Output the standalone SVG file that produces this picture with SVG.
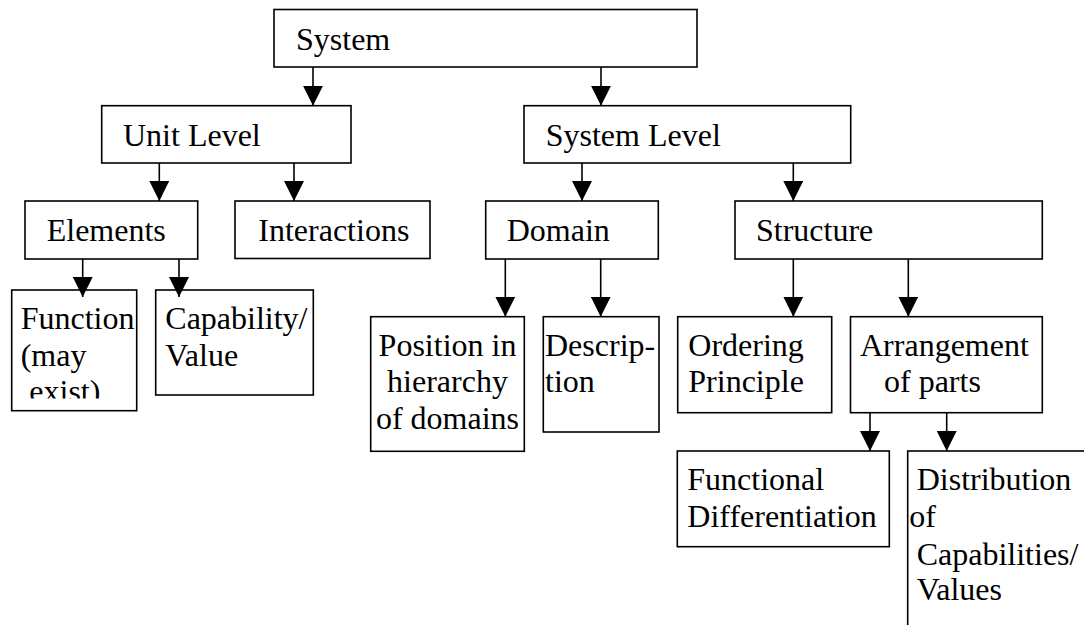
<svg xmlns="http://www.w3.org/2000/svg" width="1084" height="625" viewBox="0 0 1084 625">
<style>
.box{fill:#fff;stroke:#000;stroke-width:1.6}
.t{font-family:'Liberation Serif','DejaVu Serif',serif;font-size:32px;fill:#000}
.c{stroke:#000;stroke-width:1.6;fill:none;marker-end:url(#ah)}
</style>
<defs>
<marker id="ah" viewBox="0 0 20 20" markerWidth="20" markerHeight="20" markerUnits="userSpaceOnUse" refX="20" refY="10" orient="auto">
<path d="M0,0 L20,10 L0,20 z" fill="#000"/>
</marker>
<clipPath id="clipFn"><rect x="0" y="290" width="140" height="108.5"/></clipPath>
</defs>
<rect width="1084" height="625" fill="#fff"/>
<g id="n-system"><rect class="box" x="274" y="9.5" width="423" height="57.5"/><text class="t" x="296" y="50">System</text></g>
<g id="n-unit"><rect class="box" x="101.7" y="105.7" width="249.3" height="57.3"/><text class="t" x="123" y="146">Unit Level</text></g>
<g id="n-syslevel"><rect class="box" x="524" y="105.7" width="326.7" height="57.3"/><text class="t" x="545.7" y="146">System Level</text></g>
<g id="n-elements"><rect class="box" x="25" y="201" width="172.7" height="58"/><text class="t" x="46.7" y="241">Elements</text></g>
<g id="n-interactions"><rect class="box" x="235" y="201" width="195" height="57.5"/><text class="t" x="258.3" y="241">Interactions</text></g>
<g id="n-domain"><rect class="box" x="485.7" y="201" width="172.6" height="58"/><text class="t" x="506.7" y="241">Domain</text></g>
<g id="n-structure"><rect class="box" x="735" y="201" width="307.3" height="58"/><text class="t" x="756" y="241">Structure</text></g>
<g id="n-function"><rect class="box" x="11.7" y="290" width="125" height="120.7"/><g clip-path="url(#clipFn)"><text class="t" x="20.7" y="329">Function</text><text class="t" x="20.7" y="365.5">(may</text><text class="t" x="29.3" y="402">exist)</text></g></g>
<g id="n-capability"><rect class="box" x="155.7" y="290" width="157.6" height="105"/><text class="t" x="165.3" y="329">Capability/</text><text class="t" x="165.3" y="366">Value</text></g>
<g id="n-position"><rect class="box" x="370.7" y="316.7" width="153.6" height="134.6"/><text class="t" x="447.5" y="356" text-anchor="middle">Position in</text><text class="t" x="447.5" y="392" text-anchor="middle">hierarchy</text><text class="t" x="447.5" y="429" text-anchor="middle">of domains</text></g>
<g id="n-description"><rect class="box" x="543.3" y="316.7" width="115.7" height="115.3"/><text class="t" x="545" y="356">Descrip-</text><text class="t" x="545" y="392">tion</text></g>
<g id="n-ordering"><rect class="box" x="677.7" y="316.7" width="154" height="96"/><text class="t" x="688.3" y="356">Ordering</text><text class="t" x="688.3" y="392">Principle</text></g>
<g id="n-arrangement"><rect class="box" x="850.5" y="316.7" width="191.8" height="96"/><text class="t" x="860" y="356">Arrangement</text><text class="t" x="884" y="392">of parts</text></g>
<g id="n-functional"><rect class="box" x="677.3" y="451" width="212" height="95.7"/><text class="t" x="687.3" y="490">Functional</text><text class="t" x="687.3" y="526.7">Differentiation</text></g>
<g id="n-distribution"><rect class="box" x="907.7" y="451" width="200" height="200"/><text class="t" x="916.7" y="490">Distribution</text><text class="t" x="909.3" y="526.7">of</text><text class="t" x="916.7" y="565">Capabilities/</text><text class="t" x="916.7" y="600">Values</text></g>
<g id="connectors">
<line class="c" x1="313" y1="67" x2="313" y2="105.7"/>
<line class="c" x1="601" y1="67" x2="601" y2="105.7"/>
<line class="c" x1="159.3" y1="163" x2="159.3" y2="201"/>
<line class="c" x1="294" y1="163" x2="294" y2="201"/>
<line class="c" x1="582" y1="163" x2="582" y2="201"/>
<line class="c" x1="793.3" y1="163" x2="793.3" y2="201"/>
<line class="c" x1="82.7" y1="259" x2="82.7" y2="297"/>
<line class="c" x1="179" y1="259" x2="179" y2="297"/>
<line class="c" x1="505.3" y1="259" x2="505.3" y2="316.7"/>
<line class="c" x1="600.7" y1="259" x2="600.7" y2="316.7"/>
<line class="c" x1="793.3" y1="259" x2="793.3" y2="316.7"/>
<line class="c" x1="908.3" y1="259" x2="908.3" y2="316.7"/>
<line class="c" x1="870" y1="412.7" x2="870" y2="451"/>
<line class="c" x1="946.7" y1="412.7" x2="946.7" y2="451"/>
</g>
</svg>
